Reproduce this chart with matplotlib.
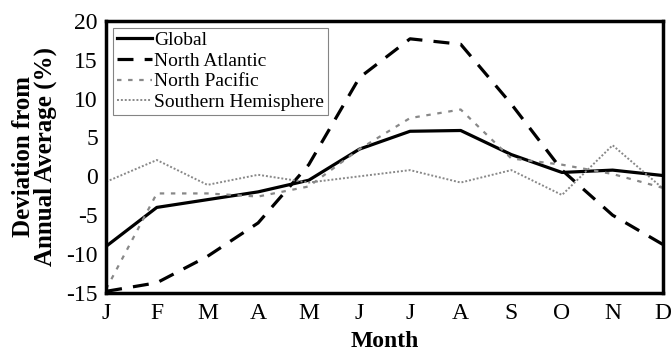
import matplotlib
matplotlib.use("Agg")
import matplotlib.pyplot as plt
import numpy as np

months = ["J", "F", "M", "A", "M", "J", "J", "A", "S", "O", "N", "D"]

global_dev = [-9.0, -4.0, -3.0, -2.0, -0.5, 3.5, 5.8, 5.9, 2.8, 0.5, 0.8, 0.1]
north_atlantic = [-14.8, -13.7, -10.3, -6.0, 1.5, 12.7, 17.7, 17.0, 9.3, 0.8, -5.0, -8.8]
north_pacific = [-14.5, -2.2, -2.2, -2.6, -1.3, 3.5, 7.5, 8.6, 2.3, 1.5, 0.3, -1.5]
southern_hemi = [-0.7, 2.1, -1.1, 0.2, -0.8, 0.0, 0.8, -0.8, 0.8, -2.4, 4.0, -1.6]

plt.rcParams["font.family"] = ["Liberation Serif", "DejaVu Serif"]
plt.rcParams["axes.unicode_minus"] = False

fig = plt.figure(figsize=(6.72, 3.55), dpi=100)
ax = fig.add_axes([0.158, 0.175, 0.829, 0.766])

x = np.arange(len(months))
ax.plot(x, global_dev, color="black", lw=2.3, label="Global")
ax.plot(x, north_atlantic, color="black", lw=2.3, dashes=(5, 3.5), label="North Atlantic")
ax.plot(x, north_pacific, color="#888888", lw=1.6, dashes=(2, 3), label="North Pacific")
ax.plot(x, southern_hemi, color="#888888", lw=1.4, dashes=(1, 1), label="Southern Hemisphere")

ax.set_xlim(0, len(months) - 1)
ax.set_ylim(-15, 20)
ax.set_xticks(x)
ax.set_xticklabels(months)
ax.set_yticks(np.arange(-15, 21, 5))
ax.tick_params(length=0, labelsize=17, pad=7)
ax.tick_params(axis="y", pad=6)
for s in ax.spines.values():
    s.set_linewidth(2.5)

ax.set_xlabel("Month", fontsize=17, fontweight="bold", labelpad=5)
ax.set_ylabel("Deviation from\nAnnual Average (%)", fontsize=18, fontweight="bold",
              labelpad=7, linespacing=0.9)

leg = ax.legend(loc="upper left", fontsize=14, handlelength=1.8, handletextpad=0.1,
                borderpad=0.2, labelspacing=0.15, borderaxespad=0.35, fancybox=False)
leg.get_frame().set_edgecolor("#666666")
leg.get_frame().set_linewidth(0.8)

plt.savefig("out.png", dpi=100)
